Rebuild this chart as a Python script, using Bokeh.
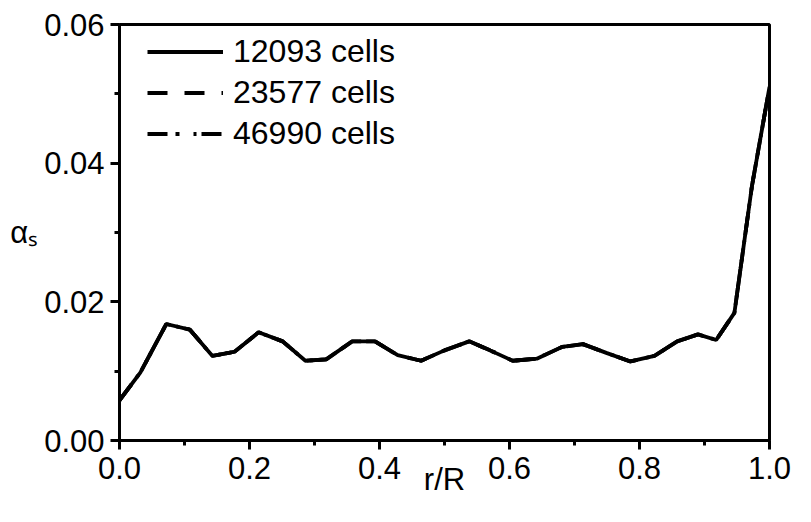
from bokeh.plotting import figure
from bokeh.models import Range1d, FixedTicker, Legend, LegendItem
from bokeh.embed import file_html
from bokeh.resources import INLINE

# ---- data ----
r_over_R = [0.000, 0.032, 0.072, 0.108, 0.143, 0.177, 0.214, 0.251, 0.286, 0.318,
            0.358, 0.393, 0.428, 0.464, 0.500, 0.538, 0.570, 0.605, 0.642, 0.681,
            0.713, 0.750, 0.786, 0.823, 0.858, 0.890, 0.918, 0.946, 0.973, 1.000]
alpha_12093 = [0.0058, 0.0098, 0.0168, 0.0160, 0.0122, 0.0128, 0.0156, 0.0143, 0.0115, 0.0117,
               0.0143, 0.0143, 0.0123, 0.0115, 0.0130, 0.0143, 0.0130, 0.0115, 0.0118, 0.0135,
               0.0139, 0.0126, 0.0114, 0.0122, 0.0143, 0.0153, 0.0145, 0.0184, 0.0367, 0.0510]
alpha_23577 = [0.0058, 0.0098, 0.0168, 0.0160, 0.0122, 0.0128, 0.0156, 0.0143, 0.0115, 0.0117,
               0.0143, 0.0143, 0.0123, 0.0115, 0.0130, 0.0143, 0.0130, 0.0115, 0.0118, 0.0135,
               0.0139, 0.0126, 0.0114, 0.0122, 0.0143, 0.0153, 0.0145, 0.0184, 0.0367, 0.0510]
alpha_46990 = [0.0058, 0.0098, 0.0168, 0.0160, 0.0122, 0.0128, 0.0156, 0.0143, 0.0115, 0.0117,
               0.0143, 0.0143, 0.0123, 0.0115, 0.0130, 0.0143, 0.0130, 0.0115, 0.0118, 0.0135,
               0.0139, 0.0126, 0.0114, 0.0122, 0.0143, 0.0153, 0.0145, 0.0184, 0.0367, 0.0510]
series_labels = ["12093 cells", "23577 cells", "46990 cells"]

x_ticks = [0.0, 0.2, 0.4, 0.6, 0.8, 1.0]
x_minor = [0.1, 0.3, 0.5, 0.7, 0.9]
x_tick_labels = ["0.0", "0.2", "0.4", "0.6", "0.8", "1.0"]
y_ticks = [0.00, 0.02, 0.04, 0.06]
y_minor = [0.01, 0.03, 0.05]
y_tick_labels = ["0.00", "0.02", "0.04", "0.06"]
x_title = "r/R"
y_title = "αₛ"

FONT = "Liberation Sans"

p = figure(width=795, height=506, output_backend="svg", toolbar_location=None,
           x_range=Range1d(0, 1), y_range=Range1d(0, 0.06),
           min_border_left=119, min_border_right=26, min_border_top=24, min_border_bottom=66)

p.xgrid.visible = False
p.ygrid.visible = False
p.outline_line_color = "black"
p.outline_line_width = 3
p.outline_line_alpha = 1.0
p.background_fill_color = "white"
p.border_fill_color = "white"

p.xaxis.ticker = FixedTicker(ticks=x_ticks, minor_ticks=x_minor)
p.yaxis.ticker = FixedTicker(ticks=y_ticks, minor_ticks=y_minor)
p.xaxis.major_label_overrides = {t: l for t, l in zip(x_ticks, x_tick_labels)}
p.yaxis.major_label_overrides = {t: l for t, l in zip(y_ticks, y_tick_labels)}

for ax in (p.xaxis[0], p.yaxis[0]):
    ax.axis_line_width = 3
    ax.axis_line_color = "black"
    ax.major_tick_line_width = 3
    ax.minor_tick_line_width = 3
    ax.major_tick_line_color = "black"
    ax.minor_tick_line_color = "black"
    ax.major_tick_in = 0
    ax.major_tick_out = 9
    ax.minor_tick_in = 0
    ax.minor_tick_out = 5
    ax.major_label_text_font = FONT
    ax.major_label_text_font_size = "31px"
    ax.major_label_text_color = "black"
    ax.axis_label_text_font = FONT
    ax.axis_label_text_font_size = "31px"
    ax.axis_label_text_font_style = "normal"
    ax.axis_label_text_color = "black"
p.xaxis.major_label_standoff = 7
p.xaxis.axis_label = x_title
p.xaxis.axis_label_standoff = -20
p.yaxis.major_label_standoff = 6
p.yaxis.axis_label = y_title
p.yaxis.axis_label_orientation = "horizontal"
p.yaxis.axis_label_standoff = 3

r1 = p.line(r_over_R, alpha_12093, line_color="black", line_width=3.8)
r2 = p.line(r_over_R, alpha_23577, line_color="black", line_width=3.8, line_dash="20 17")
r3 = p.line(r_over_R, alpha_46990, line_color="black", line_width=3.8, line_dash="20 8 4 14 3 5")

legend = Legend(items=[LegendItem(label=series_labels[0], renderers=[r1]),
                       LegendItem(label=series_labels[1], renderers=[r2]),
                       LegendItem(label=series_labels[2], renderers=[r3])],
                location=(28, 286), orientation="vertical",
                border_line_color=None, background_fill_alpha=0,
                padding=0, spacing=0, margin=0,
                glyph_width=76, glyph_height=41, label_height=41,
                label_standoff=10,
                label_text_font=FONT, label_text_font_size="32px",
                label_text_color="black")
p.add_layout(legend)

open("out.html", "w").write(file_html(p, INLINE))
